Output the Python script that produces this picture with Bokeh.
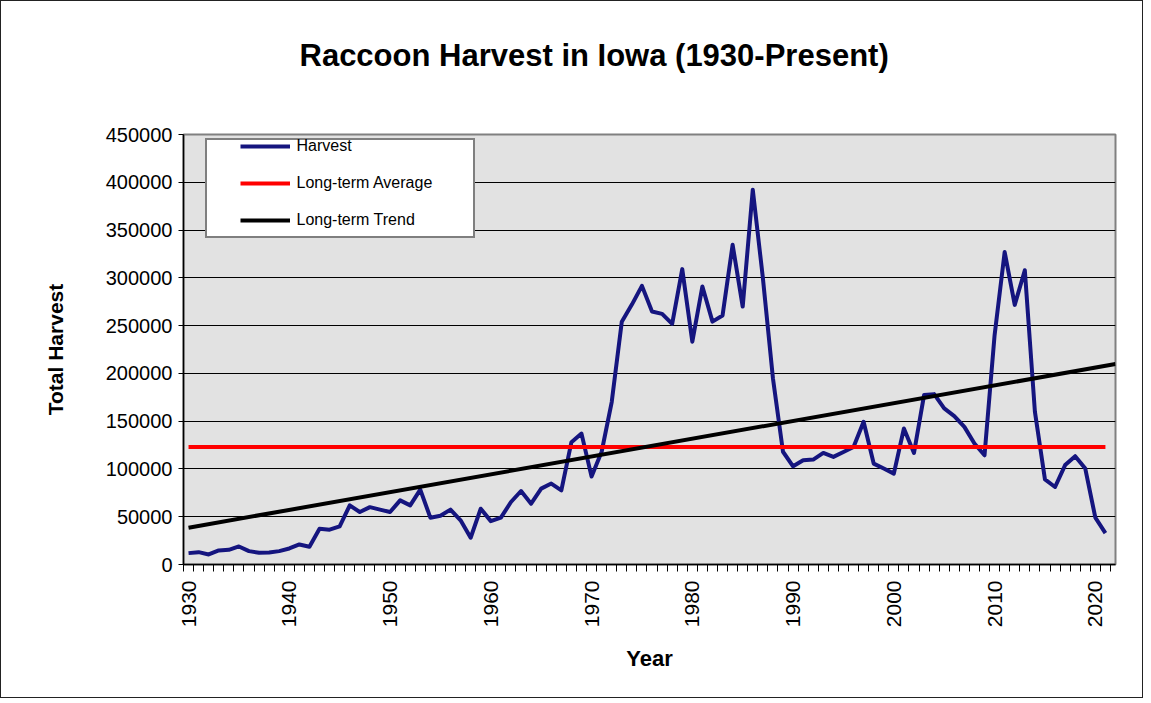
import math
from bokeh.plotting import figure
from bokeh.models import (Range1d, FixedTicker, Legend, LegendItem, Title,
                          NumeralTickFormatter)
from bokeh.embed import file_html
from bokeh.resources import INLINE

# ---------------- data ----------------
years = list(range(1930, 2022))
harvest = [
    11900, 12900, 10500, 14700, 15400, 18900, 14000, 12300, 12600, 14000,   # 1930-39
    16800, 21000, 18600, 37400, 36400, 39900, 61900, 54900, 60000, 57400,   # 1940-49
    54900, 67100, 61900, 78400, 49000, 51100, 57400, 46200, 28000, 58400,   # 1950-59
    45400, 49000, 65400, 76900, 63700, 79400, 84700, 77600, 128000, 137000, # 1960-69
    92000, 118000, 170000, 254000, 272000, 291600, 264700, 262300, 251800, 309100,  # 1970-79
    233200, 291000, 254200, 260500, 334600, 269900, 392300, 300000, 195000, 118000, # 1980-89
    102800, 109100, 109800, 116800, 112600, 117800, 123000, 149300, 105600, 100400, # 1990-99
    95100, 142300, 116800, 177300, 178300, 163300, 155300, 144000, 126600, 114300,  # 2000-09
    240000, 327000, 271700, 308000, 160000, 89000, 81100, 104000, 113300, 100400,   # 2010-19
    49000, 32800,                                                                    # 2020-21
]
average_value = 123000
trend_years = [1930, 2022]
trend_values = [38500, 209800]
x_label_years = [1930, 1940, 1950, 1960, 1970, 1980, 1990, 2000, 2010, 2020]
y_ticks = [0, 50000, 100000, 150000, 200000, 250000, 300000, 350000, 400000, 450000]
legend_labels = ["Harvest", "Long-term Average", "Long-term Trend"]

FONT = "Liberation Sans"

W, H = 1143, 698
FL, FT, FW, FH = 182, 133, 932, 430

p = figure(width=W, height=H, output_backend="svg", toolbar_location=None,
           x_range=Range1d(1929.5, 2022.0), y_range=Range1d(0, 450000),
           min_border_left=FL, min_border_right=W - FL - FW,
           min_border_top=FT, min_border_bottom=H - FT - FH)

p.background_fill_color = "#e2e2e2"
p.border_fill_color = "white"
p.outline_line_color = "#808080"
p.outline_line_width = 2
p.styles = {"border": "1.5px solid #222222"}

# spacing between title and plot area, then the title itself
spacer = Title(text=" ", text_font_size="10px", standoff=49)
p.add_layout(spacer, "above")
title = Title(text="Raccoon Harvest in Iowa (1930-Present)", align="left",
              offset=116, standoff=0,
              text_font=FONT, text_font_style="bold", text_font_size="31px",
              text_color="black")
p.add_layout(title, "above")

# grid
p.xgrid.visible = False
p.ygrid.ticker = FixedTicker(ticks=y_ticks)
p.ygrid.grid_line_color = "black"
p.ygrid.grid_line_width = 1
p.ygrid.grid_line_alpha = 1.0

# x axis
boundaries = [y - 0.5 for y in years] + [years[-1] + 0.5]
xa = p.xaxis[0]
xa.ticker = FixedTicker(ticks=x_label_years, minor_ticks=boundaries)
xa.major_tick_line_color = None
xa.major_tick_out = 0
xa.major_tick_in = 0
xa.minor_tick_line_color = "black"
xa.minor_tick_line_width = 1
xa.minor_tick_out = 7
xa.minor_tick_in = 0
xa.axis_line_color = "black"
xa.axis_line_width = 1.5
xa.major_label_orientation = math.pi / 2
xa.major_label_standoff = 9
xa.major_label_text_font = FONT
xa.major_label_text_font_size = "21px"
xa.major_label_text_color = "black"
xa.axis_label = "Year"
xa.axis_label_text_font = FONT
xa.axis_label_text_font_style = "bold"
xa.axis_label_text_font_size = "22px"
xa.axis_label_text_color = "black"
xa.axis_label_standoff = 16

# y axis
ya = p.yaxis[0]
ya.ticker = FixedTicker(ticks=y_ticks)
ya.formatter = NumeralTickFormatter(format="0")
ya.minor_tick_line_color = None
ya.major_tick_out = 5
ya.major_tick_in = 0
ya.major_tick_line_color = "black"
ya.axis_line_color = "black"
ya.axis_line_width = 1.5
ya.major_label_standoff = 6
ya.major_label_text_font = FONT
ya.major_label_text_font_size = "20px"
ya.major_label_text_color = "black"
ya.axis_label = "Total Harvest"
ya.axis_label_text_font = FONT
ya.axis_label_text_font_style = "bold"
ya.axis_label_text_font_size = "21px"
ya.axis_label_text_color = "black"
ya.axis_label_standoff = 36

# series
r_harvest = p.line(years, harvest, line_color="#15157f", line_width=4,
                   line_join="round")
r_avg = p.line([years[0], years[-1]], [average_value, average_value],
               line_color="#ff0000", line_width=4)
r_trend = p.line(trend_years, trend_values, line_color="black", line_width=4)

# legend frame (white box with black border)
r_box = p.line(x=[], y=[], line_alpha=0)
legend_box = Legend(items=[LegendItem(label=" ", renderers=[r_box])],
                    location=(21.5, 326))
legend_box.padding = 0
legend_box.margin = 0
legend_box.glyph_width = 266
legend_box.glyph_height = 96
legend_box.label_height = 0
legend_box.label_width = 0
legend_box.label_standoff = 0
legend_box.label_text_font_size = "2px"
legend_box.border_line_color = "black"
legend_box.border_line_width = 2
legend_box.background_fill_color = "white"
legend_box.background_fill_alpha = 1.0
p.add_layout(legend_box, "center")

# legend entries
legend = Legend(items=[
    LegendItem(label=legend_labels[0], renderers=[r_harvest]),
    LegendItem(label=legend_labels[1], renderers=[r_avg]),
    LegendItem(label=legend_labels[2], renderers=[r_trend]),
], location=(56.5, 335))
legend.padding = 0
legend.margin = 0
legend.spacing = 19
legend.glyph_width = 50
legend.glyph_height = 18
legend.label_height = 18
legend.label_standoff = 7
legend.label_text_font = FONT
legend.label_text_font_size = "16px"
legend.label_text_color = "black"
legend.border_line_alpha = 0
legend.background_fill_alpha = 0
p.add_layout(legend, "center")

open("out.html", "w").write(file_html(p, INLINE))
